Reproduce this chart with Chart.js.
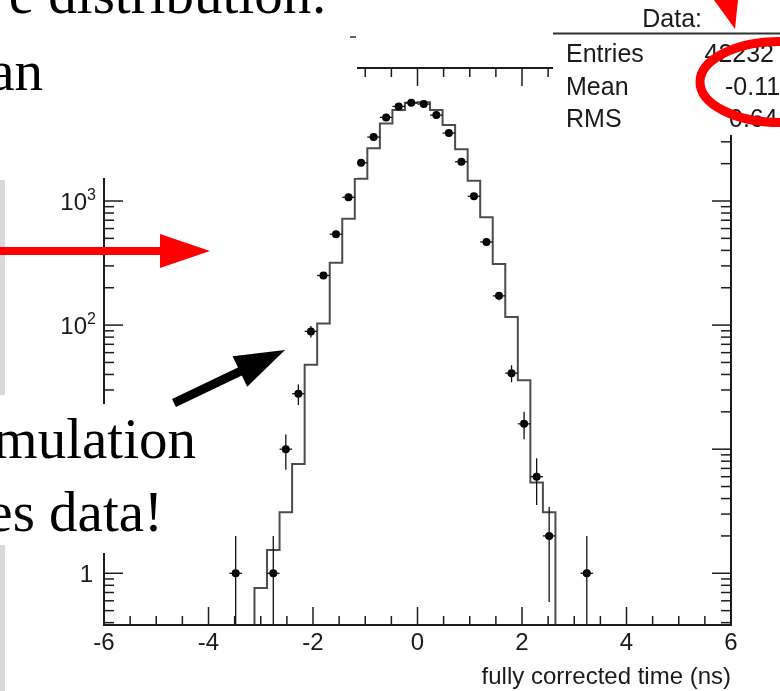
<!DOCTYPE html>
<html>
<head>
<meta charset="utf-8">
<script src="https://cdn.jsdelivr.net/npm/chart.js@4.4.1/dist/chart.umd.min.js"></script>
<style>
    html, body { margin: 0; padding: 0; background: #fff; overflow: hidden; }
    #wrap { width: 780px; height: 691px; position: relative; }
</style>
</head>
<body>
<div id="wrap"><canvas id="timeChart" width="780" height="691"></canvas></div>
<script>
// histogram binning: 50 bins from -6 to 6 ns
const binLow = -6;
const binWidth = 0.24;

// data (points with error bars)
const dataBins   = [10, 13, 14, 15, 16, 17, 18, 19, 20, 21, 22, 23, 24, 25, 26, 27, 28, 29, 30, 31, 32, 33, 34, 35, 38];
const dataCounts = [1, 1, 10, 28, 89, 251, 540, 1071, 2034, 3276, 4720, 5787, 6185, 6039, 4923, 3528, 2072, 1091, 468, 172, 41, 16, 6, 2, 1];

// simulation (step histogram)
const mcBins   = [11, 12, 13, 14, 15, 16, 17, 18, 19, 20, 21, 22, 23, 24, 25, 26, 27, 28, 29, 30, 31, 32, 33, 34, 35, 36];
const mcCounts = [0, 0.76, 1.54, 3.1, 7.6, 48, 103, 318, 720, 1513, 2657, 4223, 5405, 6200, 6250, 5405, 4090, 2608, 1457, 739, 311, 116, 36, 5.4, 3.1, 0];

// axis ticks / labels
const xTickLabels = ['-6', '-4', '-2', '0', '2', '4', '6'];
const xTickValues = [-6, -4, -2, 0, 2, 4, 6];
const yLabelValues = [1, 100, 1000, 10];
const yLabelText   = ['1', '10', '10', '10'];
const yLabelSup    = ['', '2', '3', '1'];

// stats box
const statNames  = ['Entries', 'Mean', 'RMS'];
const statValues = ['42232', '-0.11', '0.64'];

const Y_MIN = 0.383, Y_MAX = 11800;
const LOG_FLOOR = 0.1; // zero bins drop below the axis

function binCenter(i) { return binLow + binWidth * (i + 0.5); }
function binEdge(i) { return binLow + binWidth * i; }

// points for the step line (left edge of each bin + closing right edge)
const mcPoints = mcBins.map((b, k) => ({ x: binEdge(b), y: mcCounts[k] > 0 ? mcCounts[k] : LOG_FLOOR }));
mcPoints.push({ x: binEdge(mcBins[mcBins.length - 1] + 1), y: LOG_FLOOR });

const dataPoints = dataBins.map((b, k) => ({ x: binCenter(b), y: dataCounts[k] }));

const SANS = '"Liberation Sans", Arial, sans-serif';
const SERIF = '"Liberation Serif", "Times New Roman", serif';

function line(ctx, x1, y1, x2, y2) {
    ctx.beginPath();
    ctx.moveTo(x1, y1);
    ctx.lineTo(x2, y2);
    ctx.stroke();
}

// error bars + frame, ticks, labels
const histoFrame = {
    id: 'histoFrame',
    afterDatasetsDraw(chart) {
        const { ctx, chartArea: a, scales: { x, y } } = chart;
        ctx.save();

        // error bars: +-sqrt(N) vertically, bin width horizontally
        ctx.strokeStyle = '#111';
        ctx.lineWidth = 1.3;
        dataBins.forEach((b, k) => {
            const n = dataCounts[k];
            const err = Math.sqrt(n);
            const px = x.getPixelForValue(binCenter(b));
            const py = y.getPixelForValue(n);
            const top = y.getPixelForValue(n + err);
            const bot = (n - err) > Y_MIN ? y.getPixelForValue(n - err) : a.bottom;
            line(ctx, px, top, px, bot);
            line(ctx, x.getPixelForValue(binEdge(b)), py, x.getPixelForValue(binEdge(b + 1)), py);
        });

        // frame
        ctx.strokeStyle = '#1c1c1c';
        ctx.lineWidth = 2;
        ctx.strokeRect(a.left, a.top, a.right - a.left, a.bottom - a.top);

        // x ticks (inside, bottom and top)
        ctx.lineWidth = 1.5;
        for (let k = 0; k <= 24; k++) {
            const v = -6 + 0.5 * k;
            const px = x.getPixelForValue(v);
            const len = k % 4 === 0 ? 18 : 9;
            line(ctx, px, a.bottom, px, a.bottom - len);
            line(ctx, px, a.top, px, a.top + len);
        }

        // y ticks (log, inside, left and right)
        for (let e = -1; e <= 4; e++) {
            for (let m = 1; m <= 9; m++) {
                const v = m * Math.pow(10, e);
                if (v < Y_MIN || v > Y_MAX) continue;
                const py = y.getPixelForValue(v);
                const len = m === 1 ? 19 : 10;
                line(ctx, a.left, py, a.left + len, py);
                line(ctx, a.right, py, a.right - len, py);
            }
        }

        // x labels
        ctx.fillStyle = '#1a1a1a';
        ctx.font = '24px ' + SANS;
        ctx.textAlign = 'center';
        ctx.textBaseline = 'alphabetic';
        xTickValues.forEach((v, k) => {
            ctx.fillText(xTickLabels[k], x.getPixelForValue(v), 650);
        });

        // y labels
        yLabelValues.forEach((v, k) => {
            const py = y.getPixelForValue(v);
            if (yLabelSup[k]) {
                ctx.font = '24px ' + SANS;
                ctx.textAlign = 'right';
                ctx.fillText(yLabelText[k], 87, py + 9);
                ctx.font = '16px ' + SANS;
                ctx.textAlign = 'left';
                ctx.fillText(yLabelSup[k], 87, py - 1);
            } else {
                ctx.font = '24px ' + SANS;
                ctx.textAlign = 'right';
                ctx.fillText(yLabelText[k], 93, py + 9);
            }
        });

        // axis title
        ctx.font = '24px ' + SANS;
        ctx.textAlign = 'right';
        ctx.fillText('fully corrected time (ns)', a.right, 684);
        ctx.restore();
    }
};

// slide elements on top of the plot
const slideOverlay = {
    id: 'slideOverlay',
    afterDraw(chart) {
        const { ctx } = chart;
        ctx.save();

        // white text boxes that hide parts of the plot
        ctx.fillStyle = '#fff';
        ctx.fillRect(0, 0, 357, 178);
        ctx.fillRect(0, 404, 200, 149);
        ctx.fillRect(553, 0, 227, 135);

        // grey strips at the left edge
        ctx.fillStyle = '#d9d9d9';
        ctx.fillRect(0, 180, 5, 215);
        ctx.fillRect(0, 545, 5, 146);

        // little dash
        ctx.strokeStyle = '#333';
        ctx.lineWidth = 1.5;
        line(ctx, 350, 37, 356, 37);

        // stats box
        ctx.strokeStyle = '#333';
        ctx.lineWidth = 2;
        line(ctx, 553, 33.5, 780, 33.5);
        ctx.fillStyle = '#1a1a1a';
        ctx.font = '25px ' + SANS;
        ctx.textAlign = 'right';
        ctx.fillText('Data:', 702, 27);
        ctx.textAlign = 'left';
        statNames.forEach((s, k) => ctx.fillText(s, 566, 62 + k * 32.5));
        ctx.textAlign = 'right';
        ctx.fillText(statValues[0], 774, 62);
        ctx.textAlign = 'left';
        ctx.fillText(statValues[1], 725, 94.5);
        ctx.fillText(statValues[2], 729, 127);

        // slide text (serif, cut at the left)
        ctx.fillStyle = '#000';
        ctx.font = '57px ' + SERIF;
        ctx.textAlign = 'right';
        ctx.fillText('e distribution:', 327, 13);
        ctx.fillText('an', 43, 90);
        ctx.fillText('mulation', 196, 458);
        ctx.fillText('es data!', 163, 531);

        // red horizontal arrow
        ctx.fillStyle = '#ff0000';
        ctx.fillRect(0, 247, 162, 8);
        ctx.beginPath();
        ctx.moveTo(160, 234);
        ctx.lineTo(210, 251);
        ctx.lineTo(160, 268);
        ctx.closePath();
        ctx.fill();

        // red arrow head at the top
        ctx.beginPath();
        ctx.moveTo(714, 0);
        ctx.lineTo(738, 0);
        ctx.lineTo(735, 29);
        ctx.closePath();
        ctx.fill();

        // black arrow
        ctx.strokeStyle = '#000';
        ctx.fillStyle = '#000';
        ctx.lineWidth = 9;
        line(ctx, 174, 403, 242, 370.5);
        ctx.beginPath();
        ctx.moveTo(285, 350);
        ctx.lineTo(247.2, 386.8);
        ctx.lineTo(232.6, 356.2);
        ctx.closePath();
        ctx.fill();

        // red ellipse around the mean
        ctx.strokeStyle = '#ff0000';
        ctx.lineWidth = 9;
        ctx.beginPath();
        ctx.ellipse(780, 82, 80, 40.5, 0, 0, Math.PI * 2);
        ctx.stroke();

        ctx.restore();
    }
};

new Chart(document.getElementById('timeChart'), {
    type: 'scatter',
    data: {
        datasets: [{
            label: 'Data',
            data: dataPoints,
            pointRadius: 4,
            pointHoverRadius: 4,
            pointBackgroundColor: '#000',
            pointBorderColor: '#000',
            pointBorderWidth: 0
        }, {
            label: 'Simulation',
            type: 'line',
            data: mcPoints,
            showLine: true,
            stepped: true,
            borderColor: '#4d4d4d',
            borderWidth: 2,
            pointRadius: 0,
            fill: false
        }]
    },
    options: {
        responsive: false,
        animation: false,
        devicePixelRatio: 1,
        layout: { padding: { left: 104, right: 49, top: 68, bottom: 66 } },
        plugins: { legend: { display: false }, tooltip: { enabled: false } },
        scales: {
            x: { type: 'linear', min: -6, max: 6, display: false },
            y: { type: 'logarithmic', min: Y_MIN, max: Y_MAX, display: false }
        }
    },
    plugins: [histoFrame, slideOverlay]
});
</script>
</body>
</html>
